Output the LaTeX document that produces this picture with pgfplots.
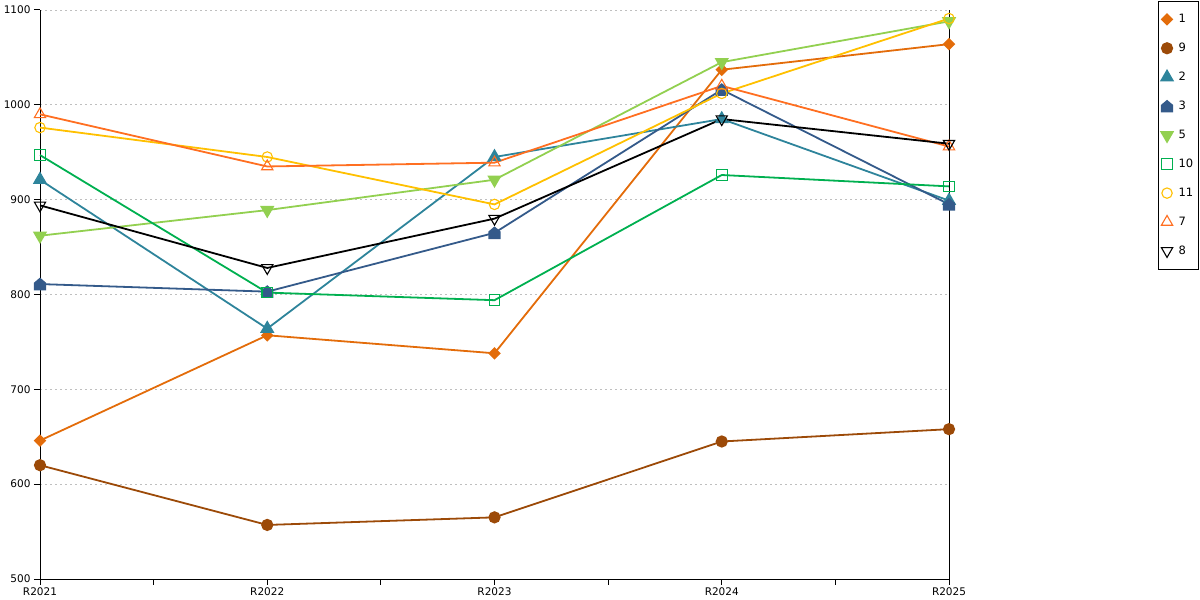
\documentclass[border=0pt]{standalone}
\usepackage{pgfplots}
\pgfplotsset{compat=1.18}
\usepackage{fontspec}
\setmainfont{DejaVu Sans}
\definecolor{cA}{HTML}{E36C0A}
\definecolor{cB}{HTML}{9C4A08}
\definecolor{cC}{HTML}{2E849B}
\definecolor{cD}{HTML}{345A8A}
\definecolor{cE}{HTML}{92D050}
\definecolor{cF}{HTML}{00B050}
\definecolor{cG}{HTML}{FFC000}
\definecolor{cH}{HTML}{FF6F21}
\definecolor{cI}{HTML}{000000}
\pgfdeclareplotmark{house*}{%
  \pgfpathmoveto{\pgfqpoint{-\pgfplotmarksize}{-\pgfplotmarksize}}%
  \pgfpathlineto{\pgfqpoint{\pgfplotmarksize}{-\pgfplotmarksize}}%
  \pgfpathlineto{\pgfqpoint{\pgfplotmarksize}{0.15\pgfplotmarksize}}%
  \pgfpathlineto{\pgfqpoint{0pt}{\pgfplotmarksize}}%
  \pgfpathlineto{\pgfqpoint{-\pgfplotmarksize}{0.15\pgfplotmarksize}}%
  \pgfpathclose
  \pgfusepathqfillstroke}
\begin{document}
\begin{tikzpicture}
\useasboundingbox (0,0) rectangle (1200bp,600bp);
\begin{axis}[
  at={(40bp,21bp)}, anchor=south west,
  scale only axis, width=909bp, height=569bp,
  xmin=0, xmax=4, ymin=500, ymax=1100,
  clip=false,
  axis lines*=left,
  axis line style={black, line width=1bp},
  xtick={0,0.5,1,1.5,2,2.5,3,3.5,4},
  xticklabels={R2021,,R2022,,R2023,,R2024,,R2025},
  ytick={500,600,700,800,900,1000,1100},
  tick align=outside, major tick length=6bp,
  tick style={black, line width=1bp},
  ymajorgrids,
  grid style={gray!50, dash pattern=on 2bp off 3bp, line width=0.8bp},
  /pgf/number format/assume math mode=true,
  /pgf/number format/1000 sep={},
  ticklabel style={font=\fontsize{10.5bp}{12bp}\selectfont, text=black},
  xticklabel style={yshift=1bp},
  legend style={at={(1.22992,1.01582)}, anchor=north west, draw=black, line width=0.8bp,
    font=\fontsize{11.5bp}{13bp}\selectfont, row sep=15bp, inner xsep=3bp, inner ysep=11bp,
    /tikz/column 1/.style={column sep=4bp}},
  legend cell align=left,
  legend image code/.code={\draw[#1,only marks] plot coordinates {(0bp,0bp)};},
  every axis plot/.append style={line width=1.8bp},
]
\addplot[color=cA, mark=diamond*, mark size=5bp, mark options={xscale=1.33}] coordinates {(0,646) (1,757) (2,738) (3,1037) (4,1064)};
\addlegendentry{1}
\addplot[color=cB, mark=*, mark size=5.2bp] coordinates {(0,620) (1,557) (2,565) (3,645) (4,658)};
\addlegendentry{9}
\addplot[color=cC, mark=triangle*, mark size=6.5bp] coordinates {(0,921) (1,764) (2,945) (3,985) (4,899)};
\addlegendentry{2}
\addplot[color=cD, mark=house*, mark size=5.3bp] coordinates {(0,811) (1,803) (2,865) (3,1016) (4,895)};
\addlegendentry{3}
\addplot[color=cE, mark=triangle*, mark size=6.5bp, mark options={rotate=180}] coordinates {(0,862) (1,889) (2,921) (3,1045) (4,1088)};
\addlegendentry{5}
\addplot[color=cF, mark=square, mark size=5.3bp, mark options={line width=1.1bp}] coordinates {(0,947) (1,802) (2,794) (3,926) (4,914)};
\addlegendentry{10}
\addplot[color=cG, mark=o, mark size=5.2bp, mark options={line width=1.1bp}] coordinates {(0,976) (1,945) (2,895) (3,1012) (4,1091)};
\addlegendentry{11}
\addplot[color=cH, mark=triangle, mark size=6.5bp, mark options={line width=1.1bp}] coordinates {(0,990) (1,935) (2,939) (3,1020) (4,956)};
\addlegendentry{7}
\addplot[color=cI, mark=triangle, mark size=6.5bp, mark options={line width=1.1bp, rotate=180}] coordinates {(0,894) (1,828) (2,880) (3,985) (4,959)};
\addlegendentry{8}
\draw[black, line width=1bp] (axis cs:4,500) -- (axis cs:4,1100);
\end{axis}
\end{tikzpicture}
\end{document}
